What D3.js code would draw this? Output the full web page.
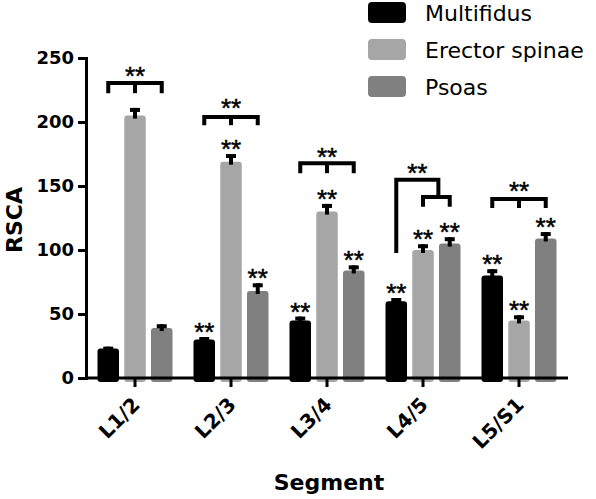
<!DOCTYPE html>
<html>
<head>
<meta charset="utf-8">
<script src="https://cdn.jsdelivr.net/npm/d3@7"></script>
<style>
  html, body { margin: 0; padding: 0; background: #fff; }
  svg { display: block; }
  text { font-family: "DejaVu Sans", sans-serif; }
  .star { font-family: "Liberation Sans", Arial, sans-serif; }
</style>
</head>
<body>
<svg id="chart" width="596" height="499"></svg>
<script>
// ---- data ----
const categories = ["L1/2", "L2/3", "L3/4", "L4/5", "L5/S1"];
const series = ["Multifidus", "Erector spinae", "Psoas"];
const multifidus = [23, 30, 45, 60, 80];
const erectorSpinae = [205, 169, 130, 100, 45];
const psoas = [39, 68, 84, 105, 109];
const multifidusErr = [1.5, 2, 3, 2.5, 5];
const erectorSpinaeErr = [6, 6, 6, 4.5, 4];
const psoasErr = [3, 6, 4, 5, 5];
// "**" above each bar? (per category, per series)
const barStars = [
  [false, false, false],
  [true, true, true],
  [true, true, true],
  [true, true, true],
  [true, true, true]
];
const yTicks = [0, 50, 100, 150, 200, 250];
// significance brackets (data units)
const brackets = [
  { cat: "L1/2", from: "Multifidus", to: "Psoas", y: 230.5, foot: 222.5, mid: true, star: 240.6 },
  { cat: "L2/3", from: "Multifidus", to: "Psoas", y: 204, foot: 197.5, mid: true, star: 215.9 },
  { cat: "L3/4", from: "Multifidus", to: "Psoas", y: 167.7, foot: 160, mid: true, star: 177.6 },
  { cat: "L4/5", from: "Erector spinae", to: "Psoas", y: 141.4, foot: 133.8, mid: false, star: null },
  { cat: "L5/S1", from: "Multifidus", to: "Psoas", y: 139.8, foot: 132.8, mid: true, star: 150.8 }
];
// nested bracket: Multifidus vs (Erector spinae + Psoas) at L4/5
const nested = { cat: "L4/5", from: "Multifidus", y: 154.9, foot: 97.7, joinTo: 141.4, star: 165.1 };

const valuesBySeries = [multifidus, erectorSpinae, psoas];
const errBySeries = [multifidusErr, erectorSpinaeErr, psoasErr];
const colors = ["#000000", "#a6a6a6", "#808080"];

const svg = d3.select("#chart");

const y = d3.scaleLinear().domain([0, 250]).range([378, 58]);
const x0 = d3.scaleBand().domain(categories).range([87, 567]).padding(0);
const x1 = d3.scaleBand().domain(series).range([-37.5, 37.5]).paddingInner(0.195).paddingOuter(0);
const color = d3.scaleOrdinal().domain(series).range(colors);

const cx = (cat, s) => x0(cat) + x0.bandwidth() / 2 + x1(s) + x1.bandwidth() / 2;

// star label: centre of the asterisks sits at yc (pixels)
function star(sel, x, yc) {
  return sel.append("text").attr("class", "star")
    .attr("x", x).attr("y", yc + 15)
    .attr("text-anchor", "middle").attr("font-size", 26)
    .attr("fill", "#000").attr("stroke", "#000").attr("stroke-width", 0.5)
    .text("**");
}

// bars
const barData = [];
categories.forEach((c, i) => series.forEach((s, j) => {
  barData.push({ cat: c, s, v: valuesBySeries[j][i], e: errBySeries[j][i], star: barStars[i][j] });
}));

const g = svg.append("g");

g.selectAll("rect.bar").data(barData).join("rect")
  .attr("class", "bar")
  .attr("x", d => x0(d.cat) + x0.bandwidth() / 2 + x1(d.s))
  .attr("y", d => y(d.v))
  .attr("width", x1.bandwidth())
  .attr("height", d => y(0) - y(d.v) + 4)
  .attr("rx", 3)
  .attr("fill", d => color(d.s));

// error bars (upper whisker, T shape)
g.selectAll("rect.stem").data(barData).join("rect")
  .attr("class", "stem")
  .attr("x", d => cx(d.cat, d.s) - 2)
  .attr("y", d => y(d.v + d.e))
  .attr("width", 4)
  .attr("height", d => y(d.v) - y(d.v + d.e) + 3)
  .attr("fill", "#000");
g.selectAll("rect.cap").data(barData).join("rect")
  .attr("class", "cap")
  .attr("x", d => cx(d.cat, d.s) - 5)
  .attr("y", d => y(d.v + d.e))
  .attr("width", 10)
  .attr("height", 4)
  .attr("fill", "#000");

// stars over bars
barData.filter(d => d.star).forEach(d => star(svg, cx(d.cat, d.s), y(d.v + d.e) - 11));

// brackets
const bg = svg.append("g").attr("fill", "none").attr("stroke", "#000").attr("stroke-width", 4);
brackets.forEach(b => {
  const xa = cx(b.cat, b.from), xb = cx(b.cat, b.to), xm = (xa + xb) / 2;
  bg.append("path").attr("d", `M${xa},${y(b.foot)}V${y(b.y)}H${xb}V${y(b.foot)}`);
  if (b.mid) bg.append("path").attr("d", `M${xm},${y(b.y)}V${y(b.foot)}`);
  if (b.star !== null) star(svg, xm, y(b.star));
});
{
  const small = brackets.find(b => b.cat === nested.cat && b.from === "Erector spinae");
  const xa = cx(nested.cat, nested.from);
  const xj = (cx(small.cat, small.from) + cx(small.cat, small.to)) / 2 + 2;
  bg.append("path").attr("d", `M${xa},${y(nested.foot)}V${y(nested.y)}H${xj}V${y(nested.joinTo)}`);
  star(svg, (xa + xj) / 2, y(nested.star));
}

// axes
const yAxis = d3.axisLeft(y).tickValues(yTicks).tickSize(8).tickSizeOuter(0).tickPadding(4);
const yg = svg.append("g").attr("transform", "translate(86,0)").call(yAxis);
yg.select(".domain").attr("stroke-width", 3).attr("stroke-linecap", "square");
yg.selectAll(".tick line").attr("stroke-width", 3);
yg.selectAll(".tick text").attr("font-size", 18).attr("font-weight", "bold")
  .attr("font-family", "DejaVu Sans").attr("fill", "#000");

const xAxis = d3.axisBottom(x0).tickSize(9).tickSizeOuter(0);
const xg = svg.append("g").attr("transform", "translate(0,378)").call(xAxis);
xg.select(".domain").attr("stroke-width", 3).attr("d", "M86,0H568");
xg.selectAll(".tick line").attr("stroke-width", 3);
xg.selectAll(".tick text")
  .attr("font-size", 20).attr("font-weight", "bold").attr("font-family", "DejaVu Sans")
  .attr("fill", "#000")
  .attr("text-anchor", "end")
  .attr("dy", null)
  .attr("y", null)
  .attr("transform", "translate(6,28) rotate(-45)");

// axis titles
svg.append("text").attr("transform", "translate(22,220) rotate(-90)")
  .attr("text-anchor", "middle").attr("font-size", 22).attr("font-weight", "bold").text("RSCA");
svg.append("text").attr("x", 329).attr("y", 490)
  .attr("text-anchor", "middle").attr("font-size", 22).attr("font-weight", "bold").text("Segment");

// legend
const lg = svg.append("g").selectAll("g").data(series).join("g")
  .attr("transform", (d, i) => `translate(368,${2 + i * 37})`);
lg.append("rect").attr("width", 38).attr("height", 21).attr("rx", 4).attr("fill", d => color(d));
lg.append("text").attr("x", 57).attr("y", 19).attr("font-size", 22).text(d => d);
</script>
</body>
</html>
